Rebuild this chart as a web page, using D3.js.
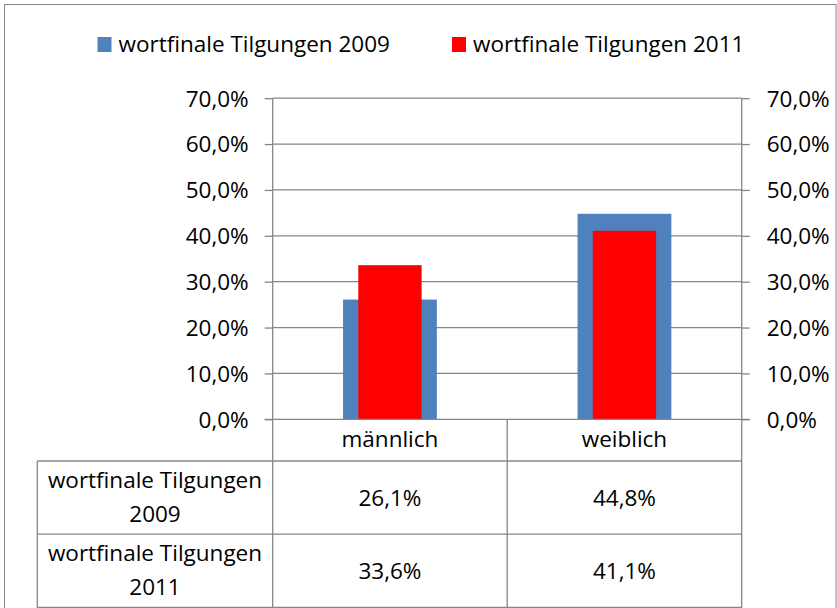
<!DOCTYPE html>
<html>
<head>
<meta charset="utf-8">
<script src="https://cdn.jsdelivr.net/npm/d3@7"></script>
<style>
  html, body { margin: 0; padding: 0; background: #fff; }
  svg { display: block; }
  text { font-family: "Open Sans", "Noto Sans", sans-serif; fill: #000; }
</style>
</head>
<body>
<svg id="chart" width="837" height="608"></svg>
<script>
// ---- data ----
const categories = ["männlich", "weiblich"];
const seriesNames = ["wortfinale Tilgungen 2009", "wortfinale Tilgungen 2011"];
const values2009 = [26.1, 44.8];
const values2011 = [33.6, 41.1];
const tickValues = [0, 10, 20, 30, 40, 50, 60, 70];
const tableLabels2009 = ["26,1%", "44,8%"];
const tableLabels2011 = ["33,6%", "41,1%"];
const rowLabelLines = [["wortfinale Tilgungen", "2009"], ["wortfinale Tilgungen", "2011"]];

const colors = ["#4F81BD", "#FF0000"];
const gridColor = "#868686";
const FS = "22.5px";

const svg = d3.select("#chart");
const W = 837, H = 608;

// outer border
svg.append("rect").attr("x", 4.5).attr("y", 4.5).attr("width", 831.5).attr("height", 610)
  .attr("fill", "#fff").attr("stroke", gridColor).attr("stroke-width", 1);

const pLeft = 272.7, pRight = 741.7, pTop = 98.2, pBottom = 419.3;
const x = d3.scaleBand().domain(categories).range([pLeft, pRight]);
const y = d3.scaleLinear().domain([0, 70]).range([pBottom, pTop]);

const fmt = v => d3.format(".1f")(v).replace(".", ",") + "%";

// gridlines
svg.append("g").selectAll("line").data(tickValues.filter(d => d > 0)).join("line")
  .attr("x1", pLeft).attr("x2", pRight)
  .attr("y1", d => y(d)).attr("y2", d => y(d))
  .attr("stroke", gridColor).attr("stroke-width", 1.3);

// left axis
const yl = d3.axisLeft(y).tickValues(tickValues).tickFormat(fmt).tickSize(8).tickPadding(16);
const gl = svg.append("g").attr("transform", `translate(${pLeft},0)`).call(yl);
// right axis
const yr = d3.axisRight(y).tickValues(tickValues).tickFormat(fmt).tickSize(8).tickPadding(17);
const gr = svg.append("g").attr("transform", `translate(${pRight},0)`).call(yr);
[gl, gr].forEach(g => {
  g.select(".domain").remove();
  g.selectAll(".tick line").attr("stroke", gridColor).attr("stroke-width", 1.3);
  g.selectAll(".tick text").style("font-size", FS).attr("font-family", "Open Sans").attr("dy", "0.35em");
});

// bars
const bw2009 = x.bandwidth() * 0.4;
const bw2011 = x.bandwidth() * 0.27;
svg.append("g").selectAll("rect").data(categories).join("rect")
  .attr("x", (d) => x(d) + x.bandwidth() / 2 - bw2009 / 2)
  .attr("width", bw2009)
  .attr("y", (d, i) => y(values2009[i]))
  .attr("height", (d, i) => y(0) - y(values2009[i]))
  .attr("fill", colors[0]);
svg.append("g").selectAll("rect").data(categories).join("rect")
  .attr("x", (d) => x(d) + x.bandwidth() / 2 - bw2011 / 2)
  .attr("width", bw2011)
  .attr("y", (d, i) => y(values2011[i]))
  .attr("height", (d, i) => y(0) - y(values2011[i]))
  .attr("fill", colors[1]);

// table lines
const tblLeft = 37.3, rowY = [419.3, 461, 534.2, 607.5];
const lines = [
  [pLeft - 8, pBottom, pRight + 8, pBottom],
  [tblLeft, rowY[1], pRight, rowY[1]],
  [tblLeft, rowY[2], pRight, rowY[2]],
  [tblLeft, rowY[3], pRight, rowY[3]],
  [pLeft, pTop, pLeft, H],
  [pRight, pTop, pRight, H],
  [x(categories[1]), pBottom, x(categories[1]), H],
  [tblLeft, rowY[1], tblLeft, H]
];
svg.append("g").selectAll("line").data(lines).join("line")
  .attr("x1", d => d[0]).attr("y1", d => d[1]).attr("x2", d => d[2]).attr("y2", d => d[3])
  .attr("stroke", gridColor).attr("stroke-width", 1.3);

// category labels
svg.append("g").selectAll("text").data(categories).join("text")
  .attr("x", d => x(d) + x.bandwidth() / 2).attr("y", 447)
  .attr("text-anchor", "middle").style("font-size", FS).text(d => d);

// table values
const rows = [tableLabels2009, tableLabels2011];
rows.forEach((r, ri) => {
  svg.append("g").selectAll("text").data(categories).join("text")
    .attr("x", d => x(d) + x.bandwidth() / 2)
    .attr("y", (rowY[ri + 1] + rowY[ri + 2]) / 2 + 8)
    .attr("text-anchor", "middle").style("font-size", FS)
    .text((d, i) => r[i]);
  const lab = svg.append("text").attr("text-anchor", "middle").style("font-size", FS);
  rowLabelLines[ri].forEach((t, li) => {
    lab.append("tspan").attr("x", (tblLeft + pLeft) / 2)
      .attr("y", rowY[ri + 1] + 27 + li * 34).text(t);
  });
});

// legend
const legendItems = [{ x: 97.5, name: seriesNames[0], c: colors[0] }, { x: 452, name: seriesNames[1], c: colors[1] }];
const lg = svg.append("g").selectAll("g").data(legendItems).join("g")
  .attr("transform", d => `translate(${d.x},0)`);
lg.append("rect").attr("x", 0).attr("y", 37).attr("width", 14).attr("height", 15).attr("fill", d => d.c);
lg.append("text").attr("x", 21).attr("y", 52).style("font-size", FS).text(d => d.name);
</script>
</body>
</html>
